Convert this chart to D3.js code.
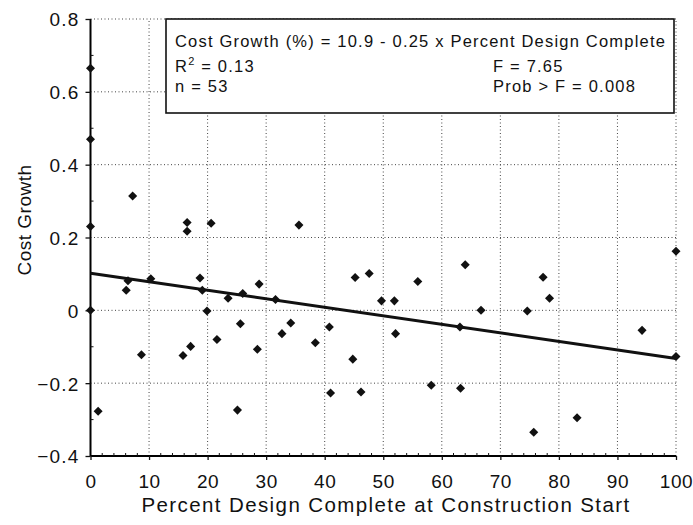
<!DOCTYPE html>
<html>
<head>
<meta charset="utf-8">
<script src="https://cdn.jsdelivr.net/npm/d3@7"></script>
<style>
  body { margin: 0; background: #fff; }
  text { font-family: "Liberation Sans", Arial, sans-serif; fill: #111; }
</style>
</head>
<body>
<div id="container"></div>
<script>
let w = 693;
let h = 525;
let margin = {left: 90.5, right: 17, top: 19, bottom: 69};

// percent design complete at construction start
let pctComplete = [0, 0, 0, 0, 1.3, 7.2, 16.5, 16.5, 20.6, 6.4,
  6.1, 10.3, 18.7, 19.1, 23.5, 26.0, 19.9, 8.7, 15.8, 17.1,
  21.6, 25.6, 35.6, 28.8, 31.6, 28.5, 32.7, 34.2, 38.4, 40.8,
  44.8, 45.2, 47.6, 49.7, 51.9, 52.1, 55.9, 63.1, 64.0, 66.7,
  74.6, 77.3, 78.4, 94.2, 100, 100, 25.1, 41.0, 46.2, 58.2,
  63.2, 75.7, 83.1];
// cost growth (fraction)
let costGrowth = [0.665, 0.47, 0.23, 0.0, -0.277, 0.314, 0.241, 0.217, 0.239, 0.081,
  0.055, 0.087, 0.089, 0.055, 0.033, 0.046, -0.002, -0.122, -0.124, -0.099,
  -0.080, -0.037, 0.234, 0.072, 0.030, -0.107, -0.064, -0.035, -0.089, -0.046,
  -0.134, 0.090, 0.101, 0.026, 0.026, -0.064, 0.079, -0.046, 0.125, 0.0,
  -0.002, 0.091, 0.033, -0.055, 0.162, -0.127, -0.274, -0.227, -0.224, -0.206,
  -0.214, -0.335, -0.295];

// fitted line end points
let fitX = [0, 100];
let fitY = [0.102, -0.132];

let xTicks = [0, 10, 20, 30, 40, 50, 60, 70, 80, 90, 100];
let yTicks = [-0.4, -0.2, 0, 0.2, 0.4, 0.6, 0.8];

let legendLines = [
  "Cost Growth (%) = 10.9 - 0.25 x Percent Design Complete",
  "R|2| = 0.13",
  "n = 53"
];
let legendRight = ["F = 7.65", "Prob > F = 0.008"];

let viz = d3.select("#container").append("svg")
    .attr("width", w)
    .attr("height", h);

let xScale = d3.scaleLinear().domain([0, 100]).range([margin.left, w - margin.right]);
let yScale = d3.scaleLinear().domain([-0.4, 0.8]).range([h - margin.bottom, margin.top]);

// dotted grid
let grid = viz.append("g").classed("grid", true)
  .attr("stroke", "#444").attr("stroke-width", 1).attr("stroke-dasharray", "1,2.5");
grid.selectAll(".gx").data(xTicks.slice(1)).enter().append("line")
  .attr("x1", d => xScale(d)).attr("x2", d => xScale(d))
  .attr("y1", yScale(-0.4)).attr("y2", yScale(0.8));
grid.selectAll(".gy").data(yTicks.slice(1)).enter().append("line")
  .attr("x1", xScale(0)).attr("x2", xScale(100))
  .attr("y1", d => yScale(d)).attr("y2", d => yScale(d));

// legend box (covers grid)
let box = viz.append("g").classed("legend", true);
box.append("rect")
  .attr("x", 166).attr("y", 19).attr("width", 508).attr("height", 94)
  .attr("fill", "white").attr("stroke", "#111").attr("stroke-width", 1.6);
let legendY = [47, 72, 92];
legendLines.forEach(function(t, i){
  let txt = box.append("text").attr("x", 175).attr("y", legendY[i])
    .style("font-size", "16.5px").style("letter-spacing", "1.2px");
  if (t.indexOf("|") >= 0) {
    let parts = t.split("|");
    txt.append("tspan").text(parts[0]);
    txt.append("tspan").attr("dy", -7).style("font-size", "11px").text(parts[1]);
    txt.append("tspan").attr("dy", 7).text(parts[2]);
  } else {
    txt.text(t);
  }
});
legendRight.forEach(function(t, i){
  box.append("text").attr("x", 493).attr("y", legendY[i + 1])
    .style("font-size", "16.5px").style("letter-spacing", "1.2px").text(t);
});

// axes
let xAxis = d3.axisBottom(xScale).tickValues(xTicks).tickSize(4).tickFormat(d3.format("d"));
let xAxisGroup = viz.append("g").classed("xAxis", true)
  .attr("transform", "translate(0," + yScale(-0.4) + ")").call(xAxis);
xAxisGroup.select(".domain").attr("stroke-width", 2).attr("d", "M" + xScale(0) + ",0H" + xScale(100));
xAxisGroup.selectAll("text").attr("dy", 0).attr("y", 32)
  .style("font-size", "19px").style("letter-spacing", "0.6px");

let xMinor = d3.range(0, 101, 2).filter(d => d % 10 != 0);
xAxisGroup.selectAll(".minor").data(xMinor).enter().append("line")
  .attr("x1", d => xScale(d)).attr("x2", d => xScale(d))
  .attr("y1", 0).attr("y2", -3).attr("stroke", "#111");

let yAxis = d3.axisLeft(yScale).tickValues(yTicks).tickSize(5)
  .tickFormat(d => d == 0 ? "0" : d3.format(".1f")(d));
let yAxisGroup = viz.append("g").classed("yAxis", true)
  .attr("transform", "translate(" + xScale(0) + ",0)").call(yAxis);
yAxisGroup.select(".domain").attr("stroke-width", 2).attr("d", "M0," + yScale(-0.4) + "V" + yScale(0.8));
yAxisGroup.selectAll("text").attr("x", -11).attr("dy", "0.36em")
  .style("font-size", "19px").style("letter-spacing", "1.2px");

let yMinor = d3.range(-0.4, 0.81, 0.1).filter(d => Math.abs(Math.round(d * 10) % 2) == 1);
yAxisGroup.selectAll(".minor").data(yMinor).enter().append("line")
  .attr("x1", 0).attr("x2", 3)
  .attr("y1", d => yScale(d)).attr("y2", d => yScale(d)).attr("stroke", "#111");

viz.selectAll(".tick line").attr("stroke", "#111").attr("stroke-width", 1.3);

// regression line
viz.append("line")
  .attr("x1", xScale(fitX[0])).attr("y1", yScale(fitY[0]))
  .attr("x2", xScale(fitX[1])).attr("y2", yScale(fitY[1]))
  .attr("stroke", "#111").attr("stroke-width", 3);

// points as diamonds
let diamond = d3.symbol().type(d3.symbolDiamond2).size(52);
let pts = pctComplete.map((x, i) => ({x: x, y: costGrowth[i]}));
viz.append("g").classed("points", true)
  .selectAll("path").data(pts).enter().append("path")
  .attr("d", diamond)
  .attr("transform", d => "translate(" + xScale(d.x) + "," + yScale(d.y) + ")")
  .attr("fill", "#111");

// axis titles
viz.append("text")
  .attr("x", 386).attr("y", 512)
  .attr("text-anchor", "middle").style("font-size", "20.5px").style("letter-spacing", "1.4px")
  .text("Percent Design Complete at Construction Start");
viz.append("text")
  .attr("transform", "translate(31," + 220 + ") rotate(-90)")
  .attr("text-anchor", "middle").style("font-size", "19px").style("letter-spacing", "0.5px")
  .text("Cost Growth");
</script>
</body>
</html>
